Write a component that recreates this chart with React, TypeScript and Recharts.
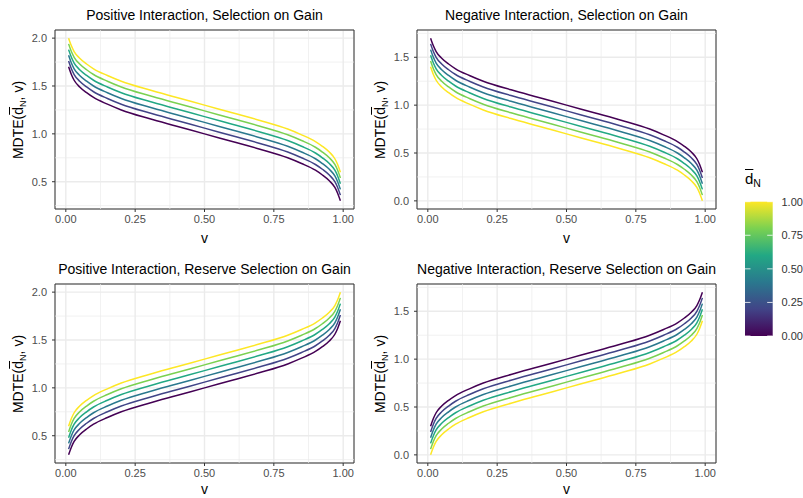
import React from "react";
import { LineChart, Line, XAxis, YAxis, CartesianGrid, ReferenceLine, ReferenceArea } from "recharts";

const V = [0.01, 0.02, 0.03, 0.05, 0.075, 0.1, 0.15, 0.2, 0.3, 0.4, 0.5, 0.6, 0.7, 0.8, 0.85, 0.9, 0.925, 0.95, 0.97, 0.98, 0.99];
const D_LEVELS = ["0", "0.2", "0.4", "0.6", "0.8", "1"];
const COLORS = ["#440154", "#414487", "#2A788E", "#22A884", "#7AD151", "#FDE725"];
const X_TICKS = [0, 0.25, 0.5, 0.75, 1];
const X_MINOR = [0.125, 0.375, 0.625, 0.875];
const LEGEND_TICKS = ["1.00", "0.75", "0.50", "0.25", "0.00"];

// Positive Interaction, Selection on Gain
const posSelD0 = [1.70, 1.62, 1.56, 1.49, 1.43, 1.38, 1.31, 1.25, 1.16, 1.08, 1.00, 0.92, 0.84, 0.75, 0.69, 0.62, 0.57, 0.51, 0.44, 0.38, 0.30];
const posSelD2 = [1.76, 1.68, 1.62, 1.55, 1.49, 1.44, 1.37, 1.31, 1.22, 1.14, 1.06, 0.98, 0.90, 0.81, 0.75, 0.68, 0.63, 0.57, 0.50, 0.44, 0.36];
const posSelD4 = [1.82, 1.74, 1.68, 1.61, 1.55, 1.50, 1.43, 1.37, 1.28, 1.20, 1.12, 1.04, 0.96, 0.87, 0.81, 0.74, 0.69, 0.63, 0.56, 0.50, 0.42];
const posSelD6 = [1.88, 1.80, 1.74, 1.67, 1.61, 1.56, 1.49, 1.43, 1.34, 1.26, 1.18, 1.10, 1.02, 0.93, 0.87, 0.80, 0.75, 0.69, 0.62, 0.56, 0.48];
const posSelD8 = [1.94, 1.86, 1.80, 1.73, 1.67, 1.62, 1.55, 1.49, 1.40, 1.32, 1.24, 1.16, 1.08, 0.99, 0.93, 0.86, 0.81, 0.75, 0.68, 0.62, 0.54];
const posSelD10 = [2.00, 1.92, 1.86, 1.79, 1.73, 1.68, 1.61, 1.55, 1.46, 1.38, 1.30, 1.22, 1.14, 1.05, 0.99, 0.92, 0.87, 0.81, 0.74, 0.68, 0.60];

// Negative Interaction, Selection on Gain
const negSelD0 = [1.70, 1.62, 1.56, 1.49, 1.43, 1.38, 1.31, 1.25, 1.16, 1.08, 1.00, 0.92, 0.84, 0.75, 0.69, 0.62, 0.57, 0.51, 0.44, 0.38, 0.30];
const negSelD2 = [1.64, 1.56, 1.50, 1.43, 1.37, 1.32, 1.25, 1.19, 1.10, 1.02, 0.94, 0.86, 0.78, 0.69, 0.63, 0.56, 0.51, 0.45, 0.38, 0.32, 0.24];
const negSelD4 = [1.58, 1.50, 1.44, 1.37, 1.31, 1.26, 1.19, 1.13, 1.04, 0.96, 0.88, 0.80, 0.72, 0.63, 0.57, 0.50, 0.45, 0.39, 0.32, 0.26, 0.18];
const negSelD6 = [1.52, 1.44, 1.38, 1.31, 1.25, 1.20, 1.13, 1.07, 0.98, 0.90, 0.82, 0.74, 0.66, 0.57, 0.51, 0.44, 0.39, 0.33, 0.26, 0.20, 0.12];
const negSelD8 = [1.46, 1.38, 1.32, 1.25, 1.19, 1.14, 1.07, 1.01, 0.92, 0.84, 0.76, 0.68, 0.60, 0.51, 0.45, 0.38, 0.33, 0.27, 0.20, 0.14, 0.06];
const negSelD10 = [1.40, 1.32, 1.26, 1.19, 1.13, 1.08, 1.01, 0.95, 0.86, 0.78, 0.70, 0.62, 0.54, 0.45, 0.39, 0.32, 0.27, 0.21, 0.14, 0.08, 0.00];

// Positive Interaction, Reserve Selection on Gain
const posResD0 = [0.30, 0.38, 0.44, 0.51, 0.57, 0.62, 0.69, 0.75, 0.84, 0.92, 1.00, 1.08, 1.16, 1.25, 1.31, 1.38, 1.43, 1.49, 1.56, 1.62, 1.70];
const posResD2 = [0.36, 0.44, 0.50, 0.57, 0.63, 0.68, 0.75, 0.81, 0.90, 0.98, 1.06, 1.14, 1.22, 1.31, 1.37, 1.44, 1.49, 1.55, 1.62, 1.68, 1.76];
const posResD4 = [0.42, 0.50, 0.56, 0.63, 0.69, 0.74, 0.81, 0.87, 0.96, 1.04, 1.12, 1.20, 1.28, 1.37, 1.43, 1.50, 1.55, 1.61, 1.68, 1.74, 1.82];
const posResD6 = [0.48, 0.56, 0.62, 0.69, 0.75, 0.80, 0.87, 0.93, 1.02, 1.10, 1.18, 1.26, 1.34, 1.43, 1.49, 1.56, 1.61, 1.67, 1.74, 1.80, 1.88];
const posResD8 = [0.54, 0.62, 0.68, 0.75, 0.81, 0.86, 0.93, 0.99, 1.08, 1.16, 1.24, 1.32, 1.40, 1.49, 1.55, 1.62, 1.67, 1.73, 1.80, 1.86, 1.94];
const posResD10 = [0.60, 0.68, 0.74, 0.81, 0.87, 0.92, 0.99, 1.05, 1.14, 1.22, 1.30, 1.38, 1.46, 1.55, 1.61, 1.68, 1.73, 1.79, 1.86, 1.92, 2.00];

// Negative Interaction, Reserve Selection on Gain
const negResD0 = [0.30, 0.38, 0.44, 0.51, 0.57, 0.62, 0.69, 0.75, 0.84, 0.92, 1.00, 1.08, 1.16, 1.25, 1.31, 1.38, 1.43, 1.49, 1.56, 1.62, 1.70];
const negResD2 = [0.24, 0.32, 0.38, 0.45, 0.51, 0.56, 0.63, 0.69, 0.78, 0.86, 0.94, 1.02, 1.10, 1.19, 1.25, 1.32, 1.37, 1.43, 1.50, 1.56, 1.64];
const negResD4 = [0.18, 0.26, 0.32, 0.39, 0.45, 0.50, 0.57, 0.63, 0.72, 0.80, 0.88, 0.96, 1.04, 1.13, 1.19, 1.26, 1.31, 1.37, 1.44, 1.50, 1.58];
const negResD6 = [0.12, 0.20, 0.26, 0.33, 0.39, 0.44, 0.51, 0.57, 0.66, 0.74, 0.82, 0.90, 0.98, 1.07, 1.13, 1.20, 1.25, 1.31, 1.38, 1.44, 1.52];
const negResD8 = [0.06, 0.14, 0.20, 0.27, 0.33, 0.38, 0.45, 0.51, 0.60, 0.68, 0.76, 0.84, 0.92, 1.01, 1.07, 1.14, 1.19, 1.25, 1.32, 1.38, 1.46];
const negResD10 = [0.00, 0.08, 0.14, 0.21, 0.27, 0.32, 0.39, 0.45, 0.54, 0.62, 0.70, 0.78, 0.86, 0.95, 1.01, 1.08, 1.13, 1.19, 1.26, 1.32, 1.40];

const buildRows = (series: number[][]) =>
  V.map((v, i) => {
    const row: Record<string, number> = { v };
    series.forEach((s, k) => {
      row["d" + k] = s[i];
    });
    return row;
  });

const FONT = "'Liberation Sans', Arial, Helvetica, sans-serif";

type PanelProps = {
  title: string;
  series: number[][];
  yDomain: [number, number];
  yTicks: number[];
  yMinor: number[];
  left: number;
  top: number;
  xTitleTop: number;
};

const YTitle = () => (
  <span>
    MDTE(
    <span style={{ textDecoration: "overline" }}>d</span>
    <span style={{ fontSize: "0.65em", verticalAlign: "-0.3em", lineHeight: 0 }}>N</span>, v)
  </span>
);

function Panel({ title, series, yDomain, yTicks, yMinor, left, top, xTitleTop }: PanelProps) {
  const data = buildRows(series);
  const X_DOMAIN: [number, number] = [-0.039, 1.039];
  return (
    <div style={{ position: "absolute", left, top, width: 400, height: 250 }}>
      <LineChart width={400} height={250} data={data} margin={{ top: 30, right: 46, bottom: 11, left: 10 }}>
        <CartesianGrid stroke="#EBEBEB" strokeWidth={1.4} />
        {X_MINOR.map((x) => (
          <ReferenceLine key={"xm" + x} x={x} stroke="#EBEBEB" strokeWidth={0.7} />
        ))}
        {yMinor.map((y) => (
          <ReferenceLine key={"ym" + y} y={y} stroke="#EBEBEB" strokeWidth={0.7} />
        ))}
        <XAxis
          dataKey="v"
          type="number"
          domain={X_DOMAIN}
          allowDataOverflow
          ticks={X_TICKS}
          interval={0}
          tickFormatter={(t: number) => t.toFixed(2)}
          axisLine={false}
          tickLine={{ stroke: "#333333" }}
          tickSize={3}
          tickMargin={3}
          height={30}
          tick={{ fill: "#4D4D4D", fontSize: 11, fontFamily: FONT }}
        />
        <YAxis
          type="number"
          domain={yDomain}
          allowDataOverflow
          ticks={yTicks}
          interval={0}
          tickFormatter={(t: number) => t.toFixed(1)}
          axisLine={false}
          tickLine={{ stroke: "#333333" }}
          tickSize={3}
          tickMargin={5}
          width={45}
          tick={{ fill: "#4D4D4D", fontSize: 11, fontFamily: FONT }}
        />
        {series.map((_, k) => (
          <Line
            key={k}
            dataKey={"d" + k}
            name={D_LEVELS[k]}
            type="monotone"
            stroke={COLORS[k]}
            strokeWidth={1.5}
            dot={false}
            isAnimationActive={false}
          />
        ))}
        <ReferenceArea
          x1={X_DOMAIN[0]}
          x2={X_DOMAIN[1]}
          y1={yDomain[0]}
          y2={yDomain[1]}
          fill="none"
          fillOpacity={0}
          stroke="#333333"
          strokeWidth={1}
          ifOverflow="visible"
        />
      </LineChart>
      <div
        style={{
          position: "absolute",
          left: 55,
          width: 299,
          top: 6,
          textAlign: "center",
          fontSize: 14,
          lineHeight: "18px",
          color: "#000",
          whiteSpace: "nowrap",
        }}
      >
        {title}
      </div>
      <div
        style={{
          position: "absolute",
          left: 204.5,
          top: xTitleTop,
          transform: "translate(-50%, -50%)",
          fontSize: 14,
          lineHeight: "16px",
          color: "#000",
        }}
      >
        v
      </div>
      <div
        style={{
          position: "absolute",
          left: 17.5,
          top: 119.5,
          transform: "translate(-50%, -50%) rotate(-90deg)",
          fontSize: 14,
          lineHeight: "16px",
          color: "#000",
          whiteSpace: "nowrap",
        }}
      >
        <YTitle />
      </div>
    </div>
  );
}

function ColorLegend() {
  return (
    <div style={{ position: "absolute", left: 740, top: 165, width: 63, height: 190 }}>
      <div style={{ position: "absolute", left: 5, top: 5, fontSize: 15, lineHeight: "18px", color: "#000" }}>
        <span style={{ textDecoration: "overline" }}>d</span>
        <span style={{ fontSize: "0.7em", verticalAlign: "-0.3em", lineHeight: 0 }}>N</span>
      </div>
      <svg width={63} height={190} style={{ position: "absolute", left: 0, top: 0 }}>
        <defs>
          <linearGradient id="viridis" x1="0" y1="1" x2="0" y2="0">
            {COLORS.map((c, i) => (
              <stop key={c} offset={`${(i / (COLORS.length - 1)) * 100}%`} stopColor={c} />
            ))}
          </linearGradient>
        </defs>
        <rect x={5} y={36.7} width={27.7} height={134.3} fill="url(#viridis)" />
        {LEGEND_TICKS.map((lab, i) => {
          const y = 36.7 + (i * 134.3) / 4;
          return (
            <g key={lab}>
              <line x1={5} x2={10.5} y1={y} y2={y} stroke="#FFFFFF" strokeWidth={0.8} />
              <line x1={27.2} x2={32.7} y1={y} y2={y} stroke="#FFFFFF" strokeWidth={0.8} />
              <text x={41.5} y={y + 3.8} fontSize={11} fill="#333333" fontFamily={FONT}>
                {lab}
              </text>
            </g>
          );
        })}
      </svg>
    </div>
  );
}

export default function App() {
  return (
    <div
      style={{
        position: "absolute",
        left: 0,
        top: 0,
        width: 803,
        height: 498,
        background: "#FFFFFF",
        fontFamily: FONT,
        overflow: "hidden",
      }}
    >
      <Panel
        title="Positive Interaction, Selection on Gain"
        series={[posSelD0, posSelD2, posSelD4, posSelD6, posSelD8, posSelD10]}
        yDomain={[0.215, 2.085]}
        yTicks={[0.5, 1, 1.5, 2]}
        yMinor={[0.25, 0.75, 1.25, 1.75]}
        left={0}
        top={0}
        xTitleTop={238}
      />
      <Panel
        title="Negative Interaction, Selection on Gain"
        series={[negSelD0, negSelD2, negSelD4, negSelD6, negSelD8, negSelD10]}
        yDomain={[-0.085, 1.785]}
        yTicks={[0, 0.5, 1, 1.5]}
        yMinor={[0.25, 0.75, 1.25, 1.75]}
        left={362}
        top={0}
        xTitleTop={238}
      />
      <Panel
        title="Positive Interaction, Reserve Selection on Gain"
        series={[posResD0, posResD2, posResD4, posResD6, posResD8, posResD10]}
        yDomain={[0.215, 2.085]}
        yTicks={[0.5, 1, 1.5, 2]}
        yMinor={[0.25, 0.75, 1.25, 1.75]}
        left={0}
        top={254}
        xTitleTop={235}
      />
      <Panel
        title="Negative Interaction, Reserve Selection on Gain"
        series={[negResD0, negResD2, negResD4, negResD6, negResD8, negResD10]}
        yDomain={[-0.085, 1.785]}
        yTicks={[0, 0.5, 1, 1.5]}
        yMinor={[0.25, 0.75, 1.25, 1.75]}
        left={362}
        top={254}
        xTitleTop={235}
      />
      <ColorLegend />
    </div>
  );
}
